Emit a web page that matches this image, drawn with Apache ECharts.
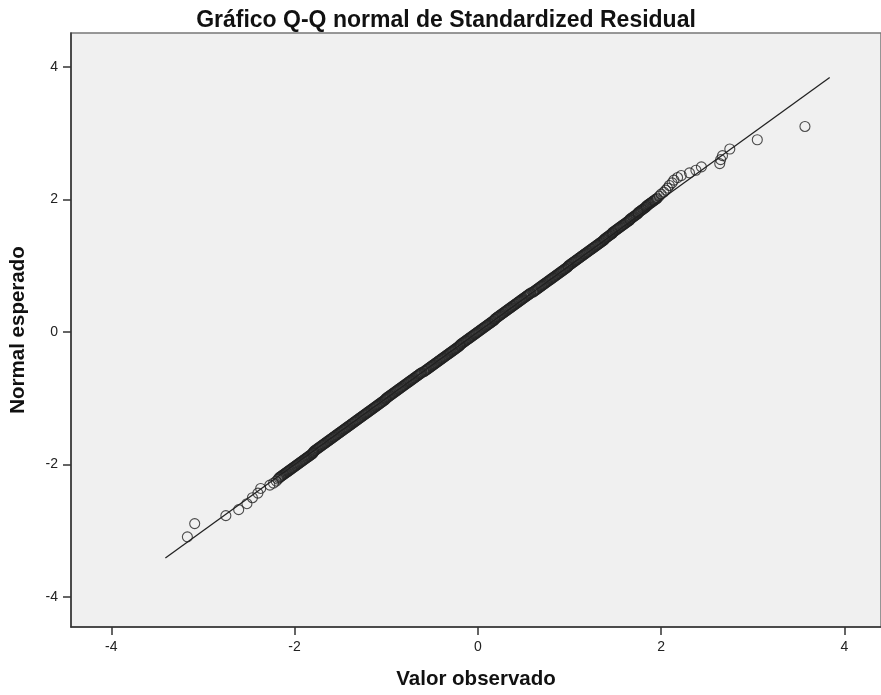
<!DOCTYPE html>
<html><head><meta charset="utf-8">
<script src="https://cdn.jsdelivr.net/npm/echarts@6/dist/echarts.min.js"></script>
<style>html,body{margin:0;padding:0;background:#fff}#c{width:881px;height:695px}</style>
</head><body><div id="c"></div>
<script>
const titleText = 'Gráfico Q-Q normal de Standardized Residual';
const xName = 'Valor observado';
const yName = 'Normal esperado';
const tickValues = [-4, -2, 0, 2, 4];
const refLine = [[-3.41, -3.41], [3.84, 3.84]];

// lower tail (read individually)
const lowObserved = [-3.17,-3.09,-2.75,-2.61,-2.52,-2.46,-2.40,-2.37,-2.27,-2.23,-2.20,-2.18];
const lowExpected = [-3.09,-2.89,-2.77,-2.68,-2.59,-2.50,-2.43,-2.36,-2.31,-2.28,-2.25,-2.22];

// dense band
const bandObserved = [
 -2.17,-2.16,-2.15,-2.14,-2.13,-2.12,-2.11,-2.10,-2.09,-2.08,
 -2.07,-2.06,-2.05,-2.04,-2.03,-2.02,-2.01,-2.00,-1.99,-1.98,
 -1.97,-1.96,-1.95,-1.94,-1.93,-1.92,-1.91,-1.90,-1.89,-1.88,
 -1.87,-1.86,-1.85,-1.84,-1.83,-1.82,-1.81,-1.80,-1.80,-1.79,
 -1.79,-1.78,-1.77,-1.76,-1.75,-1.74,-1.73,-1.72,-1.71,-1.70,
 -1.69,-1.68,-1.67,-1.66,-1.65,-1.64,-1.63,-1.62,-1.61,-1.60,
 -1.59,-1.58,-1.57,-1.56,-1.55,-1.54,-1.53,-1.52,-1.51,-1.50,
 -1.49,-1.48,-1.47,-1.46,-1.45,-1.44,-1.43,-1.42,-1.41,-1.40,
 -1.39,-1.38,-1.37,-1.36,-1.35,-1.34,-1.33,-1.32,-1.31,-1.30,
 -1.29,-1.28,-1.27,-1.26,-1.25,-1.24,-1.23,-1.22,-1.21,-1.20,
 -1.19,-1.18,-1.17,-1.16,-1.15,-1.14,-1.13,-1.12,-1.11,-1.10,
 -1.09,-1.08,-1.07,-1.06,-1.05,-1.04,-1.03,-1.02,-1.01,-1.005,
 -1.00,-0.99,-0.98,-0.97,-0.96,-0.95,-0.94,-0.93,-0.92,-0.91,
 -0.90,-0.89,-0.88,-0.87,-0.86,-0.85,-0.84,-0.83,-0.82,-0.81,
 -0.80,-0.79,-0.78,-0.77,-0.76,-0.75,-0.74,-0.73,-0.72,-0.71,
 -0.70,-0.69,-0.68,-0.67,-0.66,-0.65,-0.64,-0.63,-0.62,-0.61,
 -0.59,-0.58,-0.57,-0.56,-0.55,-0.54,-0.53,-0.52,-0.51,-0.50,
 -0.49,-0.48,-0.47,-0.46,-0.45,-0.44,-0.43,-0.42,-0.41,-0.40,
 -0.39,-0.38,-0.37,-0.36,-0.35,-0.34,-0.33,-0.32,-0.31,-0.30,
 -0.29,-0.28,-0.27,-0.26,-0.25,-0.24,-0.23,-0.22,-0.21,-0.20,
 -0.195,-0.19,-0.18,-0.17,-0.16,-0.15,-0.14,-0.13,-0.12,-0.11,
 -0.10,-0.09,-0.08,-0.07,-0.06,-0.05,-0.04,-0.03,-0.02,-0.01,
 0.00,0.01,0.02,0.03,0.04,0.05,0.06,0.07,0.08,0.09,
 0.10,0.11,0.12,0.13,0.14,0.15,0.16,0.17,0.18,0.185,
 0.19,0.20,0.21,0.22,0.23,0.24,0.25,0.26,0.27,0.28,
 0.29,0.30,0.31,0.32,0.33,0.34,0.35,0.36,0.37,0.38,
 0.39,0.40,0.41,0.42,0.43,0.44,0.45,0.46,0.47,0.48,
 0.49,0.50,0.51,0.52,0.53,0.54,0.55,0.56,0.57,0.58,
 0.60,0.61,0.62,0.63,0.64,0.65,0.66,0.67,0.68,0.69,
 0.70,0.71,0.72,0.73,0.74,0.75,0.76,0.77,0.78,0.79,
 0.80,0.81,0.82,0.83,0.84,0.85,0.86,0.87,0.88,0.89,
 0.90,0.91,0.92,0.93,0.94,0.95,0.96,0.97,0.98,0.985,
 0.99,1.00,1.01,1.02,1.03,1.04,1.05,1.06,1.07,1.08,
 1.09,1.10,1.11,1.12,1.13,1.14,1.15,1.16,1.17,1.18,
 1.19,1.20,1.21,1.22,1.23,1.24,1.25,1.26,1.27,1.28,
 1.29,1.30,1.31,1.32,1.33,1.34,1.35,1.36,1.37,1.38,
 1.38,1.39,1.40,1.41,1.42,1.43,1.44,1.45,1.46,1.47,
 1.47,1.48,1.49,1.50,1.51,1.52,1.53,1.54,1.55,1.56,
 1.57,1.58,1.59,1.60,1.61,1.62,1.63,1.64,1.65,1.66,
 1.66,1.67,1.68,1.69,1.70,1.71,1.72,1.73,1.74,1.75,
 1.75,1.76,1.77,1.78,1.79,1.80,1.81,1.82,1.83,1.84,
 1.84,1.85,1.86,1.87,1.88,1.89,1.90,1.91,1.92,1.93,
 1.94,1.95,1.96
];
const bandExpected = [
 -2.20,-2.19,-2.18,-2.17,-2.16,-2.15,-2.14,-2.13,-2.12,-2.11,
 -2.10,-2.09,-2.08,-2.07,-2.06,-2.05,-2.04,-2.03,-2.02,-2.01,
 -2.00,-1.99,-1.98,-1.97,-1.96,-1.95,-1.94,-1.93,-1.92,-1.91,
 -1.90,-1.89,-1.88,-1.87,-1.86,-1.85,-1.84,-1.83,-1.82,-1.81,
 -1.80,-1.79,-1.78,-1.77,-1.76,-1.75,-1.74,-1.73,-1.72,-1.71,
 -1.70,-1.69,-1.68,-1.67,-1.66,-1.65,-1.64,-1.63,-1.62,-1.61,
 -1.60,-1.59,-1.58,-1.57,-1.56,-1.55,-1.54,-1.53,-1.52,-1.51,
 -1.50,-1.49,-1.48,-1.47,-1.46,-1.45,-1.44,-1.43,-1.42,-1.41,
 -1.40,-1.39,-1.38,-1.37,-1.36,-1.35,-1.34,-1.33,-1.32,-1.31,
 -1.30,-1.29,-1.28,-1.27,-1.26,-1.25,-1.24,-1.23,-1.22,-1.21,
 -1.20,-1.19,-1.18,-1.17,-1.16,-1.15,-1.14,-1.13,-1.12,-1.11,
 -1.10,-1.09,-1.08,-1.07,-1.06,-1.05,-1.04,-1.03,-1.02,-1.01,
 -1.00,-0.99,-0.98,-0.97,-0.96,-0.95,-0.94,-0.93,-0.92,-0.91,
 -0.90,-0.89,-0.88,-0.87,-0.86,-0.85,-0.84,-0.83,-0.82,-0.81,
 -0.80,-0.79,-0.78,-0.77,-0.76,-0.75,-0.74,-0.73,-0.72,-0.71,
 -0.70,-0.69,-0.68,-0.67,-0.66,-0.65,-0.64,-0.63,-0.62,-0.61,
 -0.60,-0.59,-0.58,-0.57,-0.56,-0.55,-0.54,-0.53,-0.52,-0.51,
 -0.50,-0.49,-0.48,-0.47,-0.46,-0.45,-0.44,-0.43,-0.42,-0.41,
 -0.40,-0.39,-0.38,-0.37,-0.36,-0.35,-0.34,-0.33,-0.32,-0.31,
 -0.30,-0.29,-0.28,-0.27,-0.26,-0.25,-0.24,-0.23,-0.22,-0.21,
 -0.20,-0.19,-0.18,-0.17,-0.16,-0.15,-0.14,-0.13,-0.12,-0.11,
 -0.10,-0.09,-0.08,-0.07,-0.06,-0.05,-0.04,-0.03,-0.02,-0.01,
 0.00,0.01,0.02,0.03,0.04,0.05,0.06,0.07,0.08,0.09,
 0.10,0.11,0.12,0.13,0.14,0.15,0.16,0.17,0.18,0.19,
 0.20,0.21,0.22,0.23,0.24,0.25,0.26,0.27,0.28,0.29,
 0.30,0.31,0.32,0.33,0.34,0.35,0.36,0.37,0.38,0.39,
 0.40,0.41,0.42,0.43,0.44,0.45,0.46,0.47,0.48,0.49,
 0.50,0.51,0.52,0.53,0.54,0.55,0.56,0.57,0.58,0.59,
 0.60,0.61,0.62,0.63,0.64,0.65,0.66,0.67,0.68,0.69,
 0.70,0.71,0.72,0.73,0.74,0.75,0.76,0.77,0.78,0.79,
 0.80,0.81,0.82,0.83,0.84,0.85,0.86,0.87,0.88,0.89,
 0.90,0.91,0.92,0.93,0.94,0.95,0.96,0.97,0.98,0.99,
 1.00,1.01,1.02,1.03,1.04,1.05,1.06,1.07,1.08,1.09,
 1.10,1.11,1.12,1.13,1.14,1.15,1.16,1.17,1.18,1.19,
 1.20,1.21,1.22,1.23,1.24,1.25,1.26,1.27,1.28,1.29,
 1.30,1.31,1.32,1.33,1.34,1.35,1.36,1.37,1.38,1.39,
 1.40,1.41,1.42,1.43,1.44,1.45,1.46,1.47,1.48,1.49,
 1.50,1.51,1.52,1.53,1.54,1.55,1.56,1.57,1.58,1.59,
 1.60,1.61,1.62,1.63,1.64,1.65,1.66,1.67,1.68,1.69,
 1.70,1.71,1.72,1.73,1.74,1.75,1.76,1.77,1.78,1.79,
 1.80,1.81,1.82,1.83,1.84,1.85,1.86,1.87,1.88,1.89,
 1.90,1.91,1.92,1.93,1.94,1.95,1.96,1.97,1.98,1.99,
 2.00,2.01,2.02
];

// upper tail (read individually)
const highObserved = [1.98,2.00,2.03,2.05,2.07,2.09,2.12,2.14,2.18,2.22,2.31,2.38,2.44,2.64,2.65,2.67,2.75,3.05,3.57];
const highExpected = [2.05,2.08,2.11,2.14,2.17,2.21,2.25,2.29,2.33,2.36,2.40,2.44,2.49,2.54,2.60,2.66,2.76,2.90,3.10];

const observed = lowObserved.concat(bandObserved, highObserved);
const expected = lowExpected.concat(bandExpected, highExpected);
const points = observed.map((v, i) => [v, expected[i]]);

const chart = echarts.init(document.getElementById('c'), null, {renderer: 'canvas'});
const font = 'Liberation Sans, Arial, sans-serif';
chart.setOption({
  animation: false,
  backgroundColor: '#ffffff',
  title: {
    text: titleText, left: 441, top: 4, textAlign: 'center',
    textStyle: {fontFamily: font, fontSize: 23, fontWeight: 'bold', color: '#111'}
  },
  grid: {left: 70, right: -4, top: 33, bottom: 67, show: true,
    backgroundColor: '#f0f0f0', borderColor: '#777', borderWidth: 1.5},
  xAxis: {
    type: 'value', min: -4.44, max: 4.40,
    name: xName, nameLocation: 'middle', nameGap: 42,
    nameTextStyle: {fontFamily: font, fontSize: 20.5, fontWeight: 'bold', color: '#111'},
    axisLine: {show: true, onZero: false, lineStyle: {color: '#333', width: 1.5}},
    axisTick: {show: true, length: 8, customValues: tickValues, lineStyle: {color: '#333', width: 1.5}},
    axisLabel: {customValues: tickValues, margin: 13, fontFamily: font, fontSize: 14, color: '#222'},
    splitLine: {show: false}
  },
  yAxis: {
    type: 'value', min: -4.45, max: 4.51,
    name: yName, nameLocation: 'middle', nameGap: 42, nameRotate: 90,
    nameTextStyle: {fontFamily: font, fontSize: 20.5, fontWeight: 'bold', color: '#111'},
    axisLine: {show: true, onZero: false, lineStyle: {color: '#333', width: 1.5}},
    axisTick: {show: true, length: 8, customValues: tickValues, lineStyle: {color: '#333', width: 1.5}},
    axisLabel: {customValues: tickValues, margin: 13, fontFamily: font, fontSize: 14, color: '#222'},
    splitLine: {show: false}
  },
  series: [
    {type: 'line', data: refLine, symbol: 'none', silent: true,
      lineStyle: {color: '#222', width: 1.3}, z: 2},
    {type: 'scatter', data: points, symbol: 'circle', symbolSize: 10, z: 3, large: false,
      itemStyle: {color: 'rgba(0,0,0,0)', borderColor: '#222', borderWidth: 1.1}}
  ]
});
</script></body></html>
